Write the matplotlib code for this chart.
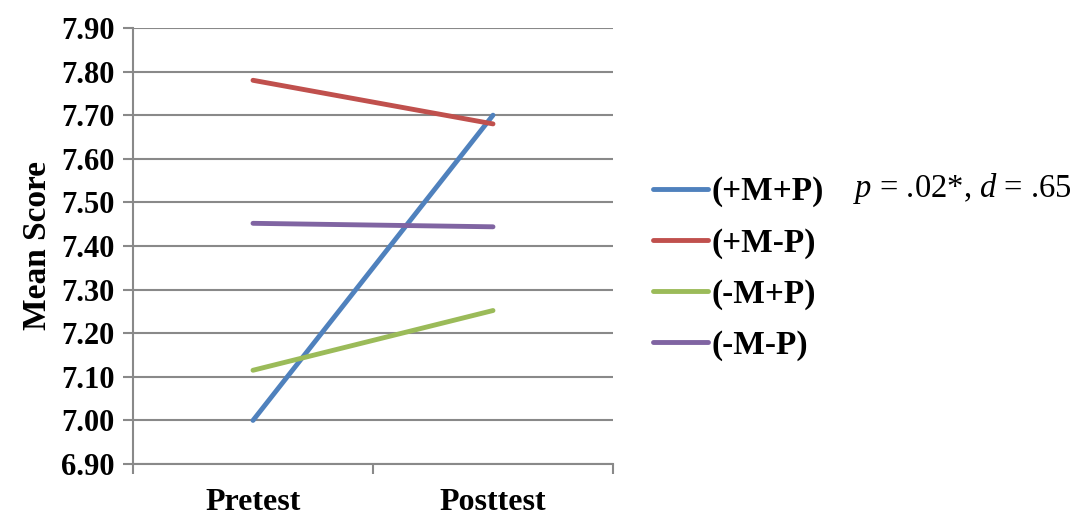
import matplotlib
matplotlib.use("Agg")
import matplotlib.pyplot as plt

# Mean scores per group, pretest vs posttest
phases = ["Pretest", "Posttest"]
groups = ["(+M+P)", "(+M-P)", "(-M+P)", "(-M-P)"]
plus_m_plus_p = [7.00, 7.70]
plus_m_minus_p = [7.78, 7.68]
minus_m_plus_p = [7.115, 7.252]
minus_m_minus_p = [7.452, 7.444]
colors = ["#4F81BD", "#C0504D", "#9BBB59", "#8064A2"]
y_ticks = [6.90, 7.00, 7.10, 7.20, 7.30, 7.40, 7.50, 7.60, 7.70, 7.80, 7.90]

plt.rcParams["font.family"] = ["Liberation Serif", "DejaVu Serif"]
plt.rcParams["mathtext.fontset"] = "custom"
plt.rcParams["mathtext.rm"] = "Liberation Serif"
plt.rcParams["mathtext.it"] = "Liberation Serif:italic"

GRID = "#898989"

fig = plt.figure(figsize=(10.76, 5.15), dpi=100)
ax = fig.add_axes([0.1236, 0.099, 0.4461, 0.8467])

x = list(range(len(phases)))
series = [plus_m_plus_p, plus_m_minus_p, minus_m_plus_p, minus_m_minus_p]
for vals, name, col in zip(series, groups, colors):
    ax.plot(x, vals, color=col, lw=3.5, solid_capstyle="round", label=name, zorder=3)

ax.set_ylim(6.90, 7.90)
ax.set_xlim(-0.5, 1.5)
ax.set_yticks(y_ticks)
ax.set_yticklabels([f"{v:.2f}" for v in y_ticks], fontsize=22, fontweight="bold")
ax.grid(axis="y", color=GRID, lw=1.5, zorder=0)

# category boundaries get tick marks, category names sit in between
ax.set_xticks([-0.5, 0.5, 1.5])
ax.set_xticklabels([])
ax.set_xticks(x, minor=True)
ax.set_xticklabels(phases, minor=True, fontsize=23, fontweight="bold")
ax.tick_params(axis="x", which="minor", length=0, pad=17)
ax.tick_params(axis="x", which="major", length=7, width=1.5, color=GRID)
ax.tick_params(axis="y", length=7, width=1.5, color=GRID, pad=6)

for side in ["top", "right"]:
    ax.spines[side].set_visible(False)
for side in ["left", "bottom"]:
    ax.spines[side].set_color(GRID)
    ax.spines[side].set_linewidth(1.5)

ax.set_ylabel("Mean Score", fontsize=24, fontweight="bold", labelpad=6)

leg = ax.legend(loc="center left", bbox_to_anchor=(1.083, 0.448), frameon=False,
                prop={"family": "Liberation Serif", "weight": "bold", "size": 24},
                handlelength=1.65, handletextpad=0.12, labelspacing=0.6,
                borderpad=0, borderaxespad=0)

fig.text(0.894, 1 - 189 / 515, r"$\mathit{p}$ = .02*, $\mathit{d}$ = .65",
         fontsize=23.5, ha="center", va="center")

fig.savefig("out.png", dpi=100)
